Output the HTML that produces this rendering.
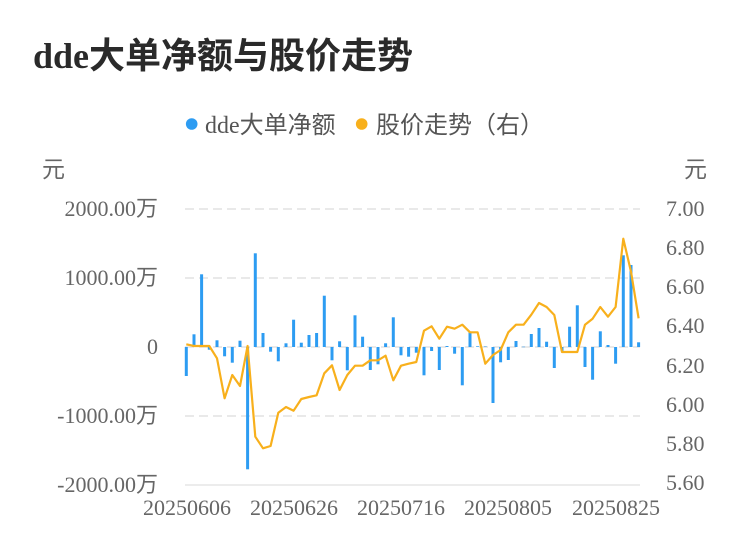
<!DOCTYPE html>
<html><head><meta charset="utf-8"><style>
html,body{margin:0;padding:0;background:#fff;}
svg{display:block;}
text{font-family:"Liberation Serif","Noto Sans CJK SC",serif;}
</style></head><body>
<svg width="750" height="558" viewBox="0 0 750 558" xmlns="http://www.w3.org/2000/svg">
<rect width="750" height="558" fill="#fff"/>
<text x="33" y="68" font-size="36" font-weight="bold" fill="#2a2a2a">dde大单净额与股价走势</text>
<circle cx="191.7" cy="124" r="5.8" fill="#2d9cf2"/>
<text x="205" y="133" font-size="24" fill="#555">dde大单净额</text>
<circle cx="361.7" cy="124" r="5.8" fill="#f8b01c"/>
<text x="376" y="133" font-size="24" fill="#555">股价走势（右）</text>
<text x="42" y="177" font-size="23" fill="#666">元</text>
<text x="684" y="177" font-size="23" fill="#666">元</text>
<g stroke="#e9e9e9" stroke-width="2" stroke-dasharray="9 5" fill="none">
<line x1="185" y1="209" x2="640" y2="209"/>
<line x1="185" y1="278" x2="640" y2="278"/>
<line x1="185" y1="347" x2="640" y2="347"/>
<line x1="185" y1="416" x2="640" y2="416"/>
</g>
<line x1="185" y1="485" x2="640" y2="485" stroke="#ececec" stroke-width="2"/>
<g font-size="22" fill="#666" text-anchor="end">
<text x="158" y="216">2000.00万</text>
<text x="158" y="285">1000.00万</text>
<text x="158" y="354">0</text>
<text x="158" y="423">-1000.00万</text>
<text x="158" y="492">-2000.00万</text>
</g>
<g font-size="22" fill="#666" text-anchor="start">
<text x="666" y="216">7.00</text>
<text x="666" y="255">6.80</text>
<text x="666" y="294">6.60</text>
<text x="666" y="333">6.40</text>
<text x="666" y="373">6.20</text>
<text x="666" y="412">6.00</text>
<text x="666" y="451">5.80</text>
<text x="666" y="490">5.60</text>
</g>
<g font-size="22" fill="#666" text-anchor="middle">
<text x="187" y="515">20250606</text>
<text x="294" y="515">20250626</text>
<text x="401" y="515">20250716</text>
<text x="508" y="515">20250805</text>
<text x="616" y="515">20250825</text>
</g>
<g fill="#2d9cf2">
<rect x="184.8" y="347" width="3" height="29"/>
<rect x="192.5" y="334.3" width="3" height="12.7"/>
<rect x="200.1" y="274.3" width="3" height="72.7"/>
<rect x="207.8" y="347" width="3" height="2.7"/>
<rect x="215.5" y="340.3" width="3" height="6.7"/>
<rect x="223.1" y="347" width="3" height="9.3"/>
<rect x="230.8" y="347" width="3" height="15.7"/>
<rect x="238.5" y="340.7" width="3" height="6.3"/>
<rect x="246.1" y="347" width="3" height="122.3"/>
<rect x="253.8" y="253.3" width="3" height="93.7"/>
<rect x="261.5" y="333" width="3" height="14"/>
<rect x="269.1" y="347" width="3" height="4.7"/>
<rect x="276.8" y="347" width="3" height="14.3"/>
<rect x="284.5" y="343.3" width="3" height="3.7"/>
<rect x="292.1" y="319.7" width="3" height="27.3"/>
<rect x="299.8" y="342.7" width="3" height="4.3"/>
<rect x="307.5" y="335" width="3" height="12"/>
<rect x="315.1" y="333" width="3" height="14"/>
<rect x="322.8" y="295.7" width="3" height="51.3"/>
<rect x="330.5" y="347" width="3" height="13.3"/>
<rect x="338.1" y="341.3" width="3" height="5.7"/>
<rect x="345.8" y="347" width="3" height="23.3"/>
<rect x="353.5" y="315.3" width="3" height="31.7"/>
<rect x="361.1" y="336.7" width="3" height="10.3"/>
<rect x="368.8" y="347" width="3" height="23"/>
<rect x="376.5" y="347" width="3" height="17.3"/>
<rect x="384.1" y="343.3" width="3" height="3.7"/>
<rect x="391.8" y="317.3" width="3" height="29.7"/>
<rect x="399.5" y="347" width="3" height="8.3"/>
<rect x="407.1" y="347" width="3" height="9.7"/>
<rect x="414.8" y="347" width="3" height="5.7"/>
<rect x="422.5" y="347" width="3" height="28.3"/>
<rect x="430.1" y="347" width="3" height="4"/>
<rect x="437.8" y="347" width="3" height="23"/>
<rect x="445.5" y="346" width="3" height="1"/>
<rect x="453.1" y="347" width="3" height="6.7"/>
<rect x="460.8" y="347" width="3" height="38.3"/>
<rect x="468.5" y="332" width="3" height="15"/>
<rect x="476.1" y="346.3" width="3" height="0.7"/>
<rect x="483.8" y="346.5" width="3" height="0.5"/>
<rect x="491.5" y="347" width="3" height="56"/>
<rect x="499.1" y="347" width="3" height="15.3"/>
<rect x="506.8" y="347" width="3" height="13"/>
<rect x="514.5" y="341" width="3" height="6"/>
<rect x="522.1" y="346.7" width="3" height="0.5"/>
<rect x="529.8" y="334" width="3" height="13"/>
<rect x="537.5" y="328" width="3" height="19"/>
<rect x="545.1" y="341.7" width="3" height="5.3"/>
<rect x="552.8" y="347" width="3" height="21"/>
<rect x="560.5" y="347" width="3" height="4"/>
<rect x="568.1" y="326.7" width="3" height="20.3"/>
<rect x="575.8" y="305.3" width="3" height="41.7"/>
<rect x="583.5" y="347" width="3" height="20"/>
<rect x="591.1" y="347" width="3" height="32.7"/>
<rect x="598.8" y="331.3" width="3" height="15.7"/>
<rect x="606.5" y="345" width="3" height="2"/>
<rect x="614.1" y="347" width="3" height="16.7"/>
<rect x="621.8" y="255.3" width="3" height="91.7"/>
<rect x="629.5" y="265" width="3" height="82"/>
<rect x="637.1" y="342.3" width="3" height="4.7"/>
</g>
<polyline fill="none" stroke="#f8b01c" stroke-width="2.2" stroke-linejoin="round" points="186.3,344.3 194.0,346 201.6,346 209.3,346 217.0,358.3 224.6,398.3 232.3,375 240.0,386 247.6,346 255.3,436.7 263.0,448.3 270.6,446 278.3,412.7 286.0,407 293.6,410.7 301.3,399 309.0,397 316.6,395.3 324.3,373.3 332.0,365.3 339.6,390 347.3,375 355.0,365.7 362.6,365.7 370.3,360.3 378.0,360.3 385.6,355.7 393.3,380.3 401.0,365.7 408.6,363.7 416.3,362 424.0,330.7 431.6,326.3 439.3,338.7 447.0,326.7 454.6,328.7 462.3,324.7 470.0,332.3 477.6,332.3 485.3,363.7 493.0,355 500.6,350 508.3,332.3 516.0,324.7 523.6,324.7 531.3,314.7 539.0,303 546.6,307 554.3,315 562.0,352 569.6,352 577.3,352 585.0,324.7 592.6,318.7 600.3,307 608.0,316.7 615.6,307 623.3,238.7 631.0,271.7 638.6,318.3"/>
</svg>
</body></html>
